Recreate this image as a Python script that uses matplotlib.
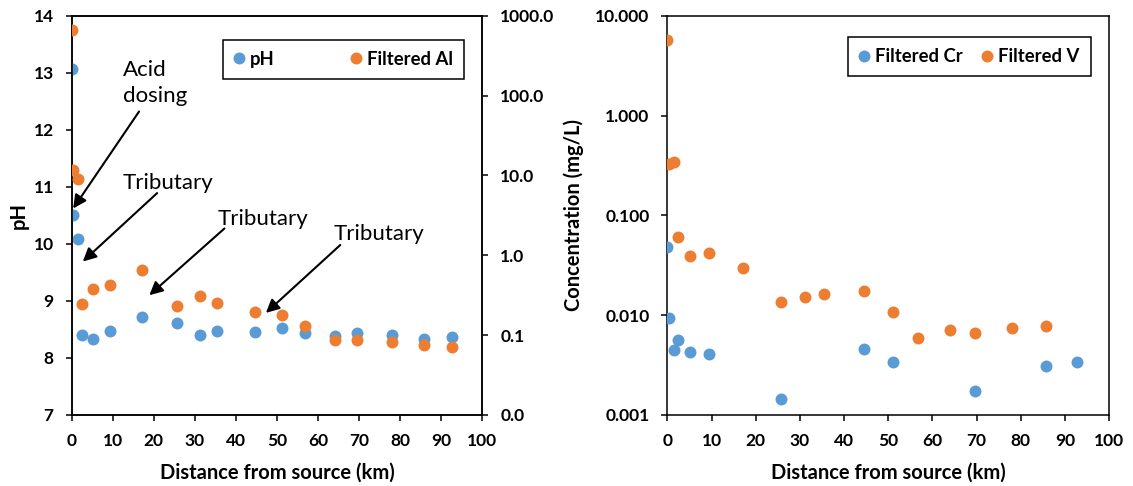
import matplotlib
matplotlib.use("Agg")
import matplotlib.pyplot as plt
from matplotlib.lines import Line2D
from matplotlib.ticker import FixedLocator, FuncFormatter, NullLocator

plt.rcParams["font.family"] = ["Lato", "DejaVu Sans"]

BLUE = "#5B9BD5"
ORANGE = "#ED7D31"

# ── data ───────────────────────────────────────────────────────────────────
dist = [0, 0.4, 1.5, 2.5, 5.2, 9.4, 17.0, 25.7, 31.2, 35.5, 44.6, 51.1,
        56.8, 64.1, 69.6, 78.0, 85.8, 92.7]
ph = [13.06, 10.50, 10.08, 8.40, 8.34, 8.47, 8.72, 8.61, 8.40, 8.48, 8.46,
      8.52, 8.44, 8.39, 8.44, 8.40, 8.34, 8.37]
al = [660, 11.7, 9.0, 0.248, 0.382, 0.425, 0.647, 0.234, 0.306, 0.255,
      0.195, 0.177, 0.131, 0.088, 0.088, 0.082, 0.0745, 0.0703]

v_dist = [0, 0.4, 1.5, 2.5, 5.2, 9.4, 17.0, 25.7, 31.2, 35.5, 44.6, 51.1,
          56.8, 64.1, 69.6, 78.0, 85.8]
v_conc = [5.66, 0.327, 0.345, 0.0603, 0.0392, 0.0416, 0.0299, 0.01346,
          0.0153, 0.0164, 0.0176, 0.01076, 0.0059, 0.00705, 0.00663,
          0.0075, 0.00785]
cr_dist = [0, 0.4, 1.5, 2.5, 5.2, 9.4, 25.7, 44.6, 51.1, 69.6, 85.8, 92.7]
cr_conc = [0.0485, 0.00944, 0.00448, 0.00564, 0.0043, 0.0041, 0.00146,
           0.00461, 0.0034, 0.00173, 0.0031, 0.00342]

x_ticks = list(range(0, 101, 10))
ph_ticks = [7, 8, 9, 10, 11, 12, 13, 14]
al_ticks = [0.01, 0.1, 1, 10, 100, 1000]
conc_ticks = [0.001, 0.01, 0.1, 1, 10]

# (label, text x, baseline y of last line, arrow tail, arrow head), km / pH
notes = [
    ("Acid\ndosing", 12.5, 12.49, (16.4, 12.32), (0.35, 10.62)),
    ("Tributary", 12.5, 10.96, (20.8, 10.89), (2.7, 9.69)),
    ("Tributary", 35.6, 10.33, (37.2, 10.27), (18.9, 9.10)),
    ("Tributary", 63.9, 10.07, (65.4, 9.98), (47.3, 8.79)),
]

TICK_FS = 12.5
LABEL_FS = 14.5
LEG_FS = 13.3
MS = 8.6
LW = 1.1

fig = plt.figure(figsize=(11.33, 4.86), dpi=100)
ax1 = fig.add_axes([0.0633, 0.1461, 0.3624, 0.8216])
ax3 = fig.add_axes([0.5891, 0.1461, 0.3897, 0.8216])


def style(ax):
    for s in ax.spines.values():
        s.set_linewidth(LW)
        s.set_color("black")
    ax.tick_params(direction="out", length=4.5, width=LW, pad=8.5,
                   labelsize=TICK_FS)
    for lab in ax.get_xticklabels() + ax.get_yticklabels():
        lab.set_fontweight("bold")


def boxed_legend(ax, handles, labels, center, colspace):
    leg = ax.legend(handles, labels, ncol=2, loc="center",
                    bbox_to_anchor=center,
                    prop={"weight": "bold", "size": LEG_FS},
                    handlelength=0.6, handletextpad=0.3,
                    columnspacing=colspace, borderpad=0.6,
                    fancybox=False, framealpha=1)
    leg.get_frame().set_edgecolor("black")
    leg.get_frame().set_linewidth(1.1)
    return leg


def dot(color):
    return Line2D([], [], ls="none", marker="o", color=color, ms=MS,
                  mec="none")


# ── left panel: pH + filtered Al ─────────────────────────────────────────
ax1.plot(dist, ph, "o", color=BLUE, ms=MS, mec="none", zorder=3)
ax1.set_xlim(0, 100)
ax1.set_ylim(7, 14)
ax1.xaxis.set_major_locator(FixedLocator(x_ticks))
ax1.yaxis.set_major_locator(FixedLocator(ph_ticks))
ax1.set_xlabel("Distance from source (km)", fontsize=LABEL_FS,
               fontweight="bold", labelpad=9.5)
ax1.set_ylabel("pH", fontsize=LABEL_FS, fontweight="bold", labelpad=3)
ax1.tick_params(top=False, right=False)

ax2 = ax1.twinx()
ax2.plot(dist, al, "o", color=ORANGE, ms=MS, mec="none", zorder=3)
ax2.set_yscale("log")
ax2.set_ylim(0.01, 1000)
ax2.yaxis.set_major_locator(FixedLocator(al_ticks))
ax2.yaxis.set_minor_locator(NullLocator())
ax2.yaxis.set_major_formatter(FuncFormatter(lambda v, p: f"{v:.1f}"))
style(ax1)
style(ax2)

for text, tx, ty, tail, head in notes:
    ax1.text(tx, ty, text, fontsize=16, va="baseline", ha="left",
             linespacing=1.35, zorder=5)
    ax1.annotate("", xy=head, xytext=tail,
                 arrowprops=dict(arrowstyle="-|>", color="black", lw=1.5,
                                 mutation_scale=20, shrinkA=0, shrinkB=0))

boxed_legend(ax2, [dot(BLUE), dot(ORANGE)], ["pH", "Filtered Al"],
             (0.662, 0.891), 4.1)

# ── right panel: filtered Cr + V ──────────────────────────────────────────
ax3.plot(cr_dist, cr_conc, "o", color=BLUE, ms=MS, mec="none", zorder=3)
ax3.plot(v_dist, v_conc, "o", color=ORANGE, ms=MS, mec="none", zorder=3)
ax3.set_yscale("log")
ax3.set_xlim(0, 100)
ax3.set_ylim(0.001, 10)
ax3.xaxis.set_major_locator(FixedLocator(x_ticks))
ax3.yaxis.set_major_locator(FixedLocator(conc_ticks))
ax3.yaxis.set_minor_locator(NullLocator())
ax3.yaxis.set_major_formatter(FuncFormatter(lambda v, p: f"{v:.3f}"))
ax3.set_xlabel("Distance from source (km)", fontsize=LABEL_FS,
               fontweight="bold", labelpad=9.5)
ax3.set_ylabel("Concentration (mg/L)", fontsize=LABEL_FS,
               fontweight="bold", labelpad=8)
style(ax3)

boxed_legend(ax3, [dot(BLUE), dot(ORANGE)], ["Filtered Cr", "Filtered V"],
             (0.683, 0.897), 1.0)

fig.savefig("out.png", dpi=100, facecolor="white")
